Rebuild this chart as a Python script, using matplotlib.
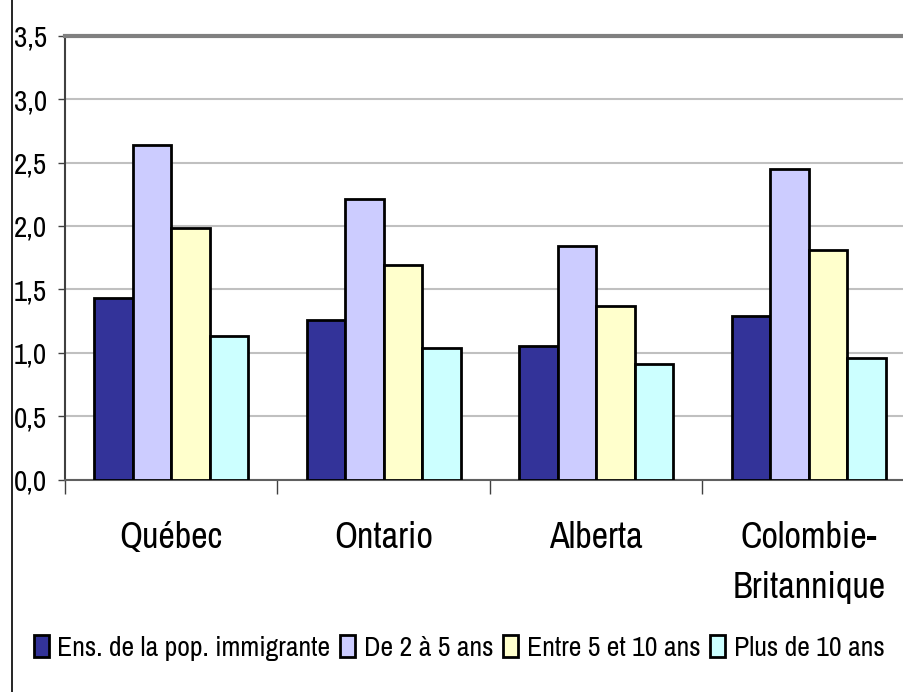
import matplotlib
matplotlib.use("Agg")
import matplotlib.pyplot as plt
from matplotlib.lines import Line2D
import numpy as np

categories = ["Québec", "Ontario", "Alberta", "Colombie-\nBritannique"]
series_names = ["Ens. de la pop. immigrante", "De 2 à 5 ans",
                "Entre 5 et 10 ans", "Plus de 10 ans"]
ens = [1.43, 1.26, 1.05, 1.29]
de2a5 = [2.64, 2.21, 1.84, 2.45]
entre5et10 = [1.98, 1.69, 1.37, 1.81]
plus10 = [1.13, 1.04, 0.91, 0.96]
yticks = [0.0, 0.5, 1.0, 1.5, 2.0, 2.5, 3.0, 3.5]
ytick_labels = ["0,0", "0,5", "1,0", "1,5", "2,0", "2,5", "3,0", "3,5"]

colors = ["#333399", "#CCCCFF", "#FFFFCC", "#CCFFFF"]
FONT = ["Archivo Narrow", "Liberation Sans", "DejaVu Sans"]
plt.rcParams["font.family"] = FONT

fig = plt.figure(figsize=(9.04, 6.92), dpi=100)
W, H = 904, 692
left, right, top, bottom = 65, 915, 35.7, 479.5
ax = fig.add_axes([left / W, 1 - bottom / H, (right - left) / W, (bottom - top) / H])

x = np.arange(len(categories))
bw = 0.181
all_series = [ens, de2a5, entre5et10, plus10]
for i, (vals, name, c) in enumerate(zip(all_series, series_names, colors)):
    ax.bar(x + (i - 1.5) * bw, vals, bw, color=c, edgecolor="black",
           linewidth=2.0, label=name, zorder=3)

ax.set_xlim(-0.5, 3.5)
ax.set_ylim(0, 3.5)
ax.set_yticks(yticks)
ax.set_yticklabels(ytick_labels, fontsize=21)
ax.yaxis.grid(True, color="#C0C0C0", linewidth=1.5, zorder=0)
ax.set_axisbelow(True)

ax.set_xticks([-0.5, 0.5, 1.5, 2.5])
ax.set_xticklabels([])
ax.tick_params(axis="x", length=10, width=1.0, color="#404040", direction="out")
ax.tick_params(axis="y", length=5, width=1.0, color="#404040", pad=8)
for xi, lab in zip(x, categories):
    ax.text(xi, -0.33, lab, ha="center", va="top", fontsize=26,
            linespacing=1.6, transform=ax.transData, family=FONT)

ax.spines["right"].set_visible(False)
ax.spines["top"].set_color("#808080")
ax.spines["top"].set_linewidth(3)
ax.spines["left"].set_color("#404040")
ax.spines["left"].set_linewidth(1.5)
ax.spines["bottom"].set_color("#606060")
ax.spines["bottom"].set_linewidth(1.5)

# figure border on the left
fig.add_artist(Line2D([12 / W, 12 / W], [0, 1], color="black", linewidth=1.2,
                      transform=fig.transFigure))

leg = fig.legend(loc="center", bbox_to_anchor=(459 / W, 1 - 648 / H), ncol=4,
                 frameon=False, fontsize=20, handlelength=0.55, handleheight=0.8,
                 handletextpad=0.3, columnspacing=0.35, borderaxespad=0)
for h in leg.legend_handles:
    h.set_linewidth(2.0)

fig.savefig("out.png", dpi=100)
